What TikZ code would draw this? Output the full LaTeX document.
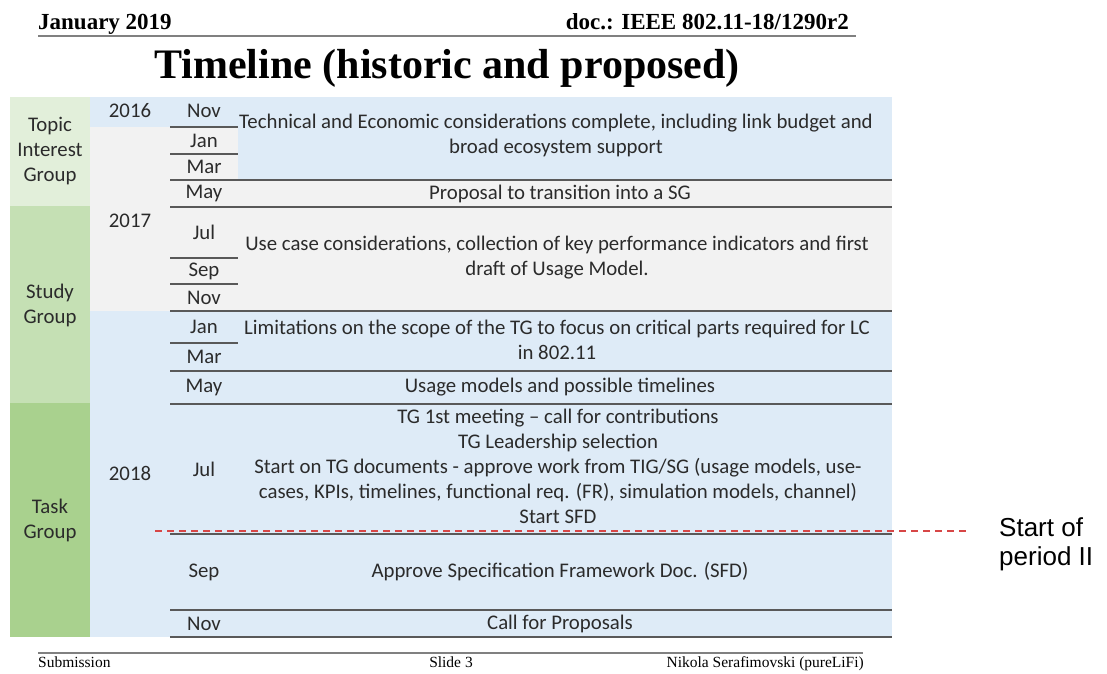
\documentclass[tikz,border=0pt]{standalone}
\usepackage{fontspec}
\setmainfont{Liberation Serif}
\newfontfamily\cellfont{Carlito}
\newfontfamily\notefont{Liberation Sans}
\usepackage{xcolor}
\definecolor{tigGreen}{HTML}{E2EFDA}
\definecolor{sgGreen}{HTML}{C5E0B4}
\definecolor{tgGreen}{HTML}{A9D18E}
\definecolor{rowBlue}{HTML}{DEEBF7}
\definecolor{rowGray}{HTML}{F2F2F2}
\definecolor{ruleGray}{HTML}{595959}
\definecolor{cellText}{HTML}{2B2B2B}
\definecolor{sfdRed}{RGB}{215,70,70}

\begin{document}
\begin{tikzpicture}[x=1pt,y=-1pt,every node/.style={inner sep=0pt},
  rules/.style={draw=ruleGray,line width=1.5pt},
  pagerule/.style={draw=gray,line width=2.2pt},
  cell/.style={align=center,text=cellText,font=\cellfont\fontsize{20.8}{25}\selectfont},
  sfdline/.style={draw=sfdRed,line width=1.3pt,dash pattern=on 7pt off 5pt}]

\useasboundingbox (0,0) rectangle (1107,673);

%% header and footer
\node[anchor=base west,font=\bfseries\fontsize{23}{23}\selectfont](date)at(38,29){January 2019};
\node[anchor=base east,font=\bfseries\fontsize{23}{23}\selectfont](doc)at(849,29){doc.: IEEE 802.11-18/1290r2};
\draw[pagerule](38,36)--(856,36);
\node[anchor=base,font=\bfseries\fontsize{42}{42}\selectfont](title)at(447,78){Timeline (historic and proposed)};
\draw[pagerule](38,653)--(863,653);
\node[anchor=base west,font=\fontsize{15.5}{15.5}\selectfont](sub)at(38,667){Submission};
\node[anchor=base,font=\fontsize{15.5}{15.5}\selectfont](slide)at(451,667){Slide 3};
\node[anchor=base east,font=\fontsize{15.5}{15.5}\selectfont](author)at(864,667){Nikola Serafimovski (pureLiFi)};

%% cell backgrounds
\fill[tigGreen](10,97)rectangle(90,206);
\fill[sgGreen](10,206)rectangle(90,403);
\fill[tgGreen](10,403)rectangle(90,637);
\fill[rowBlue](90,97)rectangle(892,127);
\fill[rowGray](90,127)rectangle(892,311);
\fill[rowBlue](238,127)rectangle(892,180);
\fill[rowBlue](90,311)rectangle(892,637);

\draw[sfdline](155,531)coordinate(sfdL)--(970,531)coordinate(sfdR);

%% month rules
\draw[rules](170,127)--(238,127);
\draw[rules](170,154)--(238,154);
\draw[rules](170,258)--(238,258);
\draw[rules](170,284)--(238,284);
\draw[rules](170,343)--(238,343);
\draw[rules](170,180)--(892,180);
\draw[rules](170,207)--(892,207);
\draw[rules](170,311)--(892,311);
\draw[rules](170,371)--(892,371);
\draw[rules](170,404)--(892,404);
\draw[rules](170,534)--(892,534);
\draw[rules](170,610)--(892,610);
\draw[rules](170,637)--(892,637);

\node[cell](tig)at(50,151){Topic\\Interest\\Group};
\node[cell](sg)at(50,305){Study\\Group};
\node[cell](tg)at(50,520){Task\\Group};

\node[cell](y16)at(130,111){2016};
\node[cell](y17)at(130,221){2017};
\node[cell](y18)at(130,473){2018};

\node[cell](nov16)at(204,111){Nov};
\node[cell](jan17)at(204,141){Jan};
\node[cell](mar17)at(204,167){Mar};
\node[cell](may17)at(204,193.5){May};
\node[cell](jul17)at(204,232){Jul};
\node[cell](sep17)at(204,271){Sep};
\node[cell](nov17)at(204,297.5){Nov};
\node[cell](jan18)at(204,327){Jan};
\node[cell](mar18)at(204,357){Mar};
\node[cell](may18)at(204,387.5){May};
\node[cell](jul18)at(204,469){Jul};
\node[cell](sep18)at(204,572){Sep};
\node[cell](nov18)at(204,623.5){Nov};

\node[cell](econ)at(556,135){Technical and Economic considerations complete, including link budget and\\broad ecosystem support};
\node[cell](toSG)at(560,193.5){Proposal to transition into a SG};
\node[cell](usecase)at(557,258){Use case considerations, collection of key performance indicators and first\\draft of Usage Model.};
\node[cell](scope)at(557,340){Limitations on the scope of the TG to focus on critical parts required for LC\\in 802.11};
\node[cell](usage)at(560,387.5){Usage models and possible timelines};
\node[cell](first)at(558,466){TG 1st meeting – call for contributions\\TG Leadership selection\\Start on TG documents - approve work from TIG/SG (usage models, use-\\cases, KPIs, timelines, functional req. (FR), simulation models, channel)\\Start SFD};
\node[cell](approve)at(560,572){Approve Specification Framework Doc. (SFD)};
\node[cell](cfp)at(560,623.5){Call for Proposals};

\node[anchor=north west,align=left,font=\notefont\fontsize{26}{29}\selectfont](period)at(999,517){Start of\\period II};
\end{tikzpicture}
\end{document}
